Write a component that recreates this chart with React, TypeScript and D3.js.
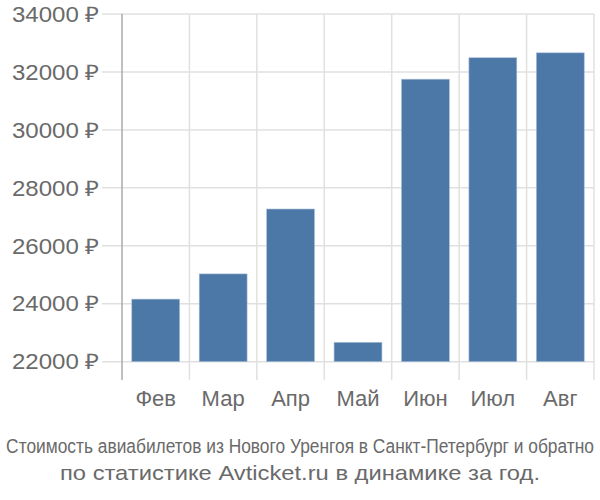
import React, { useLayoutEffect, useRef, useState } from "react";
import * as d3 from "d3";

const months = ["Фев", "Мар", "Апр", "Май", "Июн", "Июл", "Авг"];
const prices = [24160, 25030, 27270, 22670, 31750, 32490, 32660];
const yTicks = [22000, 24000, 26000, 28000, 30000, 32000, 34000];
const titleLine1 = "Стоимость авиабилетов из Нового Уренгоя в Санкт-Петербург и обратно";
const titleLine2 = "по статистике Avticket.ru в динамике за год.";

export default function App() {
  const W = 600, H = 500;
  const left = 122, right = 594, top = 14, bottom = 361.7, axisBottom = 380;
  const x = d3.scaleBand<string>().domain(months).range([left, right]).paddingInner(0.29).paddingOuter(0.145);
  const xGrid = d3.scaleBand<string>().domain(months).range([left, right]);
  const y = d3.scaleLinear().domain([22000, 34000]).range([bottom, top]);
  const font = "'Liberation Sans', Arial, sans-serif";
  const t1 = useRef<SVGTextElement>(null);
  const t2 = useRef<SVGTextElement>(null);
  const [s1, setS1] = useState(0.9);
  const [s2, setS2] = useState(1.1);
  useLayoutEffect(() => {
    if (t1.current) setS1(588 / t1.current.getComputedTextLength());
    if (t2.current) setS2(480 / t2.current.getComputedTextLength());
  }, []);
  return (
    <svg width={W} height={H} style={{ position: "absolute", left: 0, top: 0 }}>
      <rect width={W} height={H} fill="#fff" />
      {yTicks.map((t) => (
        <line key={t} x1={102} x2={right} y1={y(t)} y2={y(t)} stroke="#e0e0e0" strokeWidth={1.5} />
      ))}
      {months.map((m) => (
        <line key={m} x1={xGrid(m)! + xGrid.bandwidth()} x2={xGrid(m)! + xGrid.bandwidth()} y1={top} y2={axisBottom} stroke="#e0e0e0" strokeWidth={1.5} />
      ))}
      {months.map((m, i) => (
        <rect key={m} x={x(m)} y={y(prices[i])} width={x.bandwidth()} height={bottom - y(prices[i])} fill="#4c78a8" stroke="#a9bfd8" strokeWidth={0.6} />
      ))}
      <line x1={left} x2={left} y1={top} y2={axisBottom} stroke="#aaaaaa" strokeWidth={1.5} />
      {yTicks.map((t) => (
        <text key={t} x={100} y={y(t)} dy="0.36em" textAnchor="end" fontFamily={font} fontSize={21.5} fill="#6a6a6a" textLength={88} lengthAdjust="spacingAndGlyphs">
          {t} ₽
        </text>
      ))}
      {months.map((m) => (
        <text key={m} x={xGrid(m)! + xGrid.bandwidth() / 2} y={406} textAnchor="middle" fontFamily={font} fontSize={22} fill="#6a6a6a">
          {m}
        </text>
      ))}
      <g transform={`translate(300,453) scale(${s1},1)`}>
        <text ref={t1} x={0} y={0} textAnchor="middle" fontFamily={font} fontSize={21} fill="#6a6a6a">
          {titleLine1}
        </text>
      </g>
      <g transform={`translate(300,480) scale(${s2},1)`}>
        <text ref={t2} x={0} y={0} textAnchor="middle" fontFamily={font} fontSize={20.5} fill="#6a6a6a">
          {titleLine2}
        </text>
      </g>
    </svg>
  );
}
